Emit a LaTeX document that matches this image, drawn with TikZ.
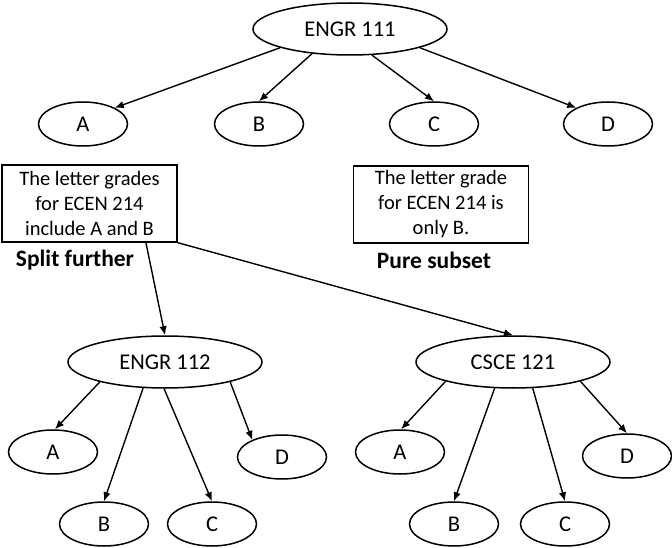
\documentclass[tikz,border=0pt]{standalone}
\usepackage{fontspec}
\setmainfont{Carlito}
\usetikzlibrary{shapes.geometric,arrows.meta,calc}
\begin{document}
\begin{tikzpicture}[x=1pt,y=-1pt,
 big/.style={ellipse,draw,line width=1.5pt,inner sep=0pt,minimum width=194pt,minimum height=52pt,font=\fontsize{22.5}{26}\selectfont},
 small/.style={ellipse,draw,line width=1.5pt,inner sep=0pt,minimum width=89pt,minimum height=44pt,font=\fontsize{22.5}{26}\selectfont},
 note/.style={draw,line width=1.3pt,inner sep=0pt,minimum width=175pt,minimum height=77pt,align=center,font=\fontsize{20.5}{25}\selectfont},
 tag/.style={font=\bfseries\fontsize{23.5}{27}\selectfont},
 arr/.style={-{Latex[length=9pt,width=7.5pt]},line width=1.4pt}]
\useasboundingbox (0,0) rectangle (672,548);
\node[big] (e111) at (350,29) {ENGR 111};
\node[small] (tA) at (83,124) {A};
\node[small] (tB) at (259,124) {B};
\node[small] (tC) at (434,124) {C};
\node[small] (tD) at (608,124) {D};
\node[note] (nl) at (89.5,203.5) {The letter grades\\for ECEN 214\\include A and B};
\node[note] (nr) at (441,204.5) {The letter grade\\for ECEN 214 is\\only B.};
\node[tag] (sl) at (75,260) {Split further};
\node[tag] (sr) at (434,260) {Pure subset};
\node[big] (e112) at (165,362) {ENGR 112};
\node[small] (lA) at (53,452) {A};
\node[small] (lB) at (104,524) {B};
\node[small] (lC) at (212,524) {C};
\node[small] (lD) at (282,457) {D};
\node[big] (c121) at (513,362) {CSCE 121};
\node[small] (rA) at (400,452) {A};
\node[small] (rB) at (454,524) {B};
\node[small] (rC) at (565,524) {C};
\node[small] (rD) at (627,456) {D};
\draw[arr] (e111.-165) -- (tA.27);
\draw[arr] (e111.-147) -- (tB.90);
\draw[arr] (e111.-50) -- (tC.90);
\draw[arr] (e111.-15) -- (tD.153);
\coordinate (ls) at ($(nl.south west)!0.82!(nl.south east)$);
\draw[arr] (ls) -- (e112.90);
\draw[arr] (nl.south east) -- (c121.90);
\draw[arr] (e112.-163) -- (lA.85);
\draw[arr] (e112.-130) -- (lB.90);
\draw[arr] (e112.-92) -- (lC.90);
\draw[arr] (e112.-17) -- (lD.150);
\draw[arr] (c121.-164) -- (rA.87);
\draw[arr] (c121.-125) -- (rB.90);
\draw[arr] (c121.-53) -- (rC.90);
\draw[arr] (c121.-16) -- (rD.90);
\end{tikzpicture}
\end{document}
